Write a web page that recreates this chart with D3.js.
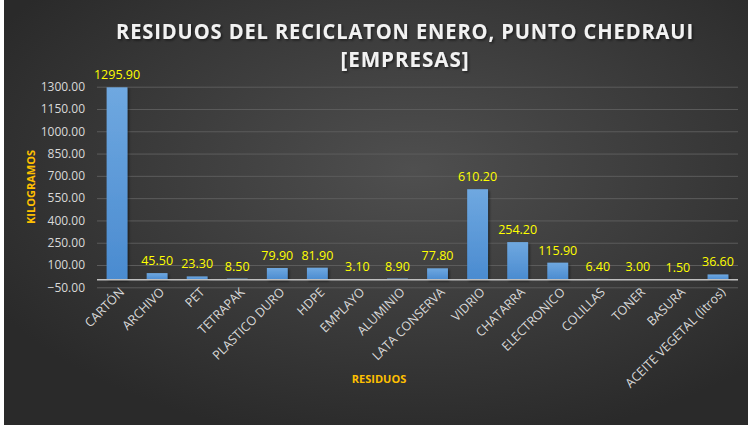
<!DOCTYPE html>
<html>
<head>
<meta charset="utf-8">
<script src="https://cdn.jsdelivr.net/npm/d3@7"></script>
<style>
  body { margin: 0; background: #fff; }
  svg { display: block; }
</style>
</head>
<body>
<div id="chart"></div>
<script>
var categories = ["CARTÓN", "ARCHIVO", "PET", "TETRAPAK", "PLASTICO DURO", "HDPE", "EMPLAYO",
  "ALUMINIO", "LATA CONSERVA", "VIDRIO", "CHATARRA", "ELECTRONICO", "COLILLAS", "TONER",
  "BASURA", "ACEITE VEGETAL (litros)"];
var values = [1295.90, 45.50, 23.30, 8.50, 79.90, 81.90, 3.10, 8.90, 77.80, 610.20, 254.20,
  115.90, 6.40, 3.00, 1.50, 36.60];
var yTicks = [-50, 100, 250, 400, 550, 700, 850, 1000, 1150, 1300];
var titleLines = ["RESIDUOS DEL RECICLATON ENERO, PUNTO CHEDRAUI", "[EMPRESAS]"];
var titleWidths = [578, 129];

var W = 751, H = 425;
var font = "'Open Sans', 'Liberation Sans', sans-serif";

var svg = d3.select("#chart").append("svg")
  .attr("width", W)
  .attr("height", H);

var defs = svg.append("defs");
var bg = defs.append("radialGradient").attr("id", "bg")
  .attr("cx", "55%").attr("cy", "40%").attr("r", "65%");
bg.append("stop").attr("offset", "0%").attr("stop-color", "#4f4f4f");
bg.append("stop").attr("offset", "100%").attr("stop-color", "#2a2a2a");

var barGrad = defs.append("linearGradient").attr("id", "barGrad")
  .attr("x1", 0).attr("y1", 0).attr("x2", 0).attr("y2", 1);
barGrad.append("stop").attr("offset", "0%").attr("stop-color", "#6fa8e0");
barGrad.append("stop").attr("offset", "100%").attr("stop-color", "#4a8bd0");

var shadow = defs.append("filter").attr("id", "shadow")
  .attr("x", "-20%").attr("y", "-20%").attr("width", "150%").attr("height", "150%");
shadow.append("feDropShadow").attr("dx", 1.5).attr("dy", 1.5).attr("stdDeviation", 1.2)
  .attr("flood-color", "#000").attr("flood-opacity", 0.5);

svg.append("rect")
  .attr("x", 4).attr("y", 0)
  .attr("width", 744).attr("height", H)
  .attr("fill", "url(#bg)");

// title
svg.append("g").selectAll("text")
  .data(titleLines)
  .enter().append("text")
  .attr("x", 405)
  .attr("y", function (d, i) { return 39 + i * 28; })
  .attr("text-anchor", "middle")
  .attr("fill", "#f2f2f2")
  .attr("font-family", font)
  .attr("font-weight", "bold")
  .attr("font-size", "22px")
  .attr("letter-spacing", "1px")
  .attr("textLength", function (d, i) { return titleWidths[i]; })
  .attr("lengthAdjust", "spacingAndGlyphs")
  .attr("filter", "url(#shadow)")
  .text(function (d) { return d; });

var x = d3.scaleBand()
  .domain(categories)
  .range([97, 738])
  .paddingInner(0.48)
  .paddingOuter(0.24);

var y = d3.scaleLinear()
  .domain([-50, 1300])
  .range([287.3, 86.7]);

// grid
svg.append("g")
  .attr("transform", "translate(97,0)")
  .call(d3.axisLeft(y).tickValues(yTicks).tickSize(-641).tickFormat(""))
  .call(function (g) { g.select(".domain").remove(); })
  .selectAll("line")
  .attr("stroke", "#5c5c5c")
  .attr("stroke-width", 1);

// y labels
svg.append("g")
  .attr("transform", "translate(97,0)")
  .call(d3.axisLeft(y).tickValues(yTicks).tickSize(0).tickPadding(12)
    .tickFormat(function (d) { return d3.format(".2f")(d); }))
  .call(function (g) { g.select(".domain").remove(); })
  .selectAll("text")
  .attr("fill", "#d9d9d9")
  .attr("font-family", font)
  .attr("font-size", "12px");

// bars
svg.append("g")
  .selectAll("rect")
  .data(values)
  .enter().append("rect")
  .attr("x", function (d, i) { return x(categories[i]); })
  .attr("y", function (d) { return y(d); })
  .attr("width", x.bandwidth())
  .attr("height", function (d) { return y(0) - y(d); })
  .attr("fill", "url(#barGrad)")
  .attr("filter", "url(#shadow)");

// zero axis line
svg.append("line")
  .attr("x1", 97).attr("x2", 738)
  .attr("y1", y(0)).attr("y2", y(0))
  .attr("stroke", "#bfbfbf")
  .attr("stroke-width", 1.5);

// data labels
svg.append("g")
  .selectAll("text")
  .data(values)
  .enter().append("text")
  .attr("x", function (d, i) { return x(categories[i]) + x.bandwidth() / 2; })
  .attr("y", function (d) { return y(d) - 8; })
  .attr("text-anchor", "middle")
  .attr("fill", "#ffff00")
  .attr("font-family", font)
  .attr("font-size", "12.5px")
  .text(function (d) { return d3.format(".2f")(d); });

// x labels
svg.append("g")
  .attr("transform", "translate(0," + y(0) + ")")
  .call(d3.axisBottom(x).tickSize(0).tickPadding(0))
  .call(function (g) { g.select(".domain").remove(); })
  .selectAll("text")
  .attr("transform", "translate(5,10) rotate(-45)")
  .attr("dy", "0.35em")
  .attr("text-anchor", "end")
  .attr("fill", "#d9d9d9")
  .attr("font-family", font)
  .attr("font-size", "12.5px");

// axis titles
svg.append("text")
  .attr("x", 379)
  .attr("y", 383)
  .attr("text-anchor", "middle")
  .attr("fill", "#ffc000")
  .attr("font-family", font)
  .attr("font-weight", "bold")
  .attr("font-size", "11px")
  .text("RESIDUOS");

svg.append("text")
  .attr("transform", "translate(35,187) rotate(-90)")
  .attr("text-anchor", "middle")
  .attr("fill", "#ffc000")
  .attr("font-family", font)
  .attr("font-weight", "bold")
  .attr("font-size", "11px")
  .text("KILOGRAMOS");
</script>
</body>
</html>
